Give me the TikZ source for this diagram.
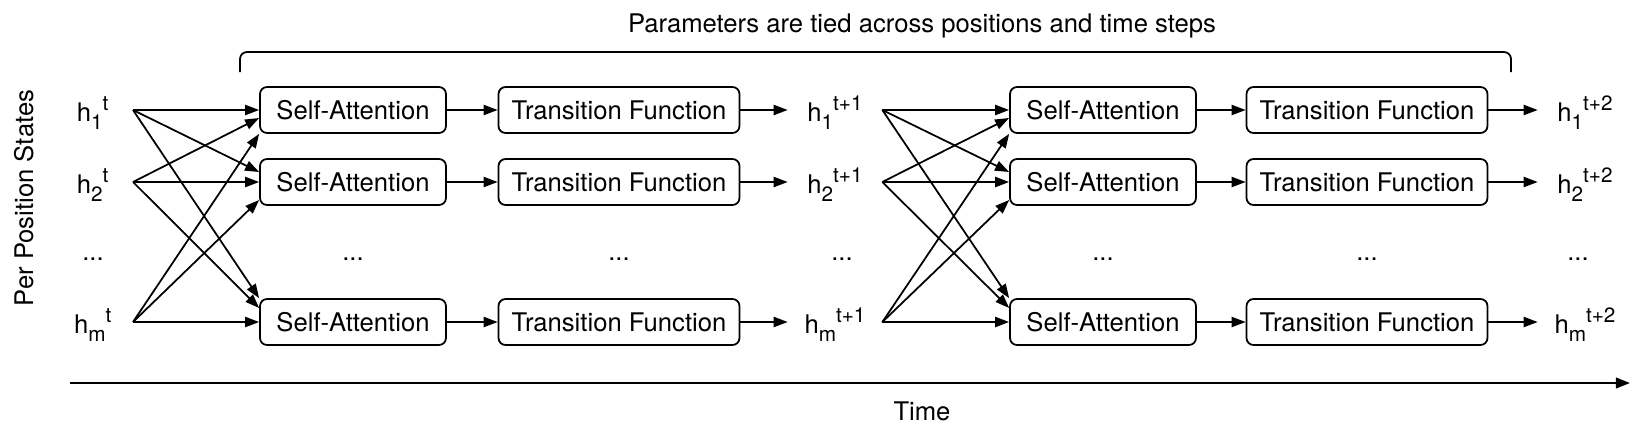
\documentclass[tikz,border=0pt]{standalone}
\usepackage{fontspec}
\setmainfont{TeX Gyre Heros}
\usetikzlibrary{arrows.meta, calc}

% h with side-by-side index and step
\newcommand{\hvec}[2]{h\raisebox{-4.5pt}{\fontsize{11.8pt}{12pt}\selectfont #1}\raisebox{6.2pt}{\fontsize{11.8pt}{12pt}\selectfont #2}}

\tikzset{
  block/.style={draw, line width=1pt, rounded corners=4pt, minimum height=0.92cm, inner sep=0pt},
  attn/.style={block, minimum width=3.72cm},
  trans/.style={block, minimum width=4.82cm},
  hstate/.style={inner sep=0pt, minimum width=1.88cm, text height=13pt, text depth=0pt},
  flow/.style={line width=1pt, -{Triangle[length=8pt, width=5.8pt]}},
  skip/.style={anchor=base}
}

\begin{document}
\begin{tikzpicture}[x=0.02cm, y=-0.02cm, font=\fontsize{14.6pt}{17pt}\selectfont]
\useasboundingbox (0,0) rectangle (1633,427);

% Labels
\node[anchor=base] (title) at (922,32) {Parameters are tied across positions and time steps};
\node[rotate=90, anchor=base] (ylabel) at (33,198) {Per Position States};
\node[anchor=base] (time) at (922,420) {Time};

% Time axis
\coordinate (timeStart) at (70,383);
\coordinate (timeEnd) at (1630,383);
\draw[line width=1.2pt, -{Triangle[length=8pt, width=6pt]}] (timeStart) -- (timeEnd);

% Tied parameters bracket
\draw[line width=1pt, rounded corners=4pt] (240,72) -- (240,52) -- (1511,52) -- (1511,72);

% States at step t
\node[hstate, minimum width=1.6cm, anchor=east] (h1a) at (133,110) {\hvec{1}{t}};
\node[hstate, minimum width=1.6cm, anchor=east] (h2a) at (133,182) {\hvec{2}{t}};
\node[hstate, minimum width=1.6cm, anchor=east] (hma) at (133,322) {\hvec{m}{t}};

% First step blocks
\node[attn] (sa1a) at (353,110) {Self-Attention};
\node[attn] (sa2a) at (353,182) {Self-Attention};
\node[attn] (sama) at (353,322) {Self-Attention};
\node[trans] (tf1a) at (619,110) {Transition Function};
\node[trans] (tf2a) at (619,182) {Transition Function};
\node[trans] (tfma) at (619,322) {Transition Function};

% States at step t+1
\node[hstate] (h1b) at (835,110) {\hvec{1}{t+1}};
\node[hstate] (h2b) at (835,182) {\hvec{2}{t+1}};
\node[hstate] (hmb) at (835,322) {\hvec{m}{t+1}};

% Second step blocks
\node[attn] (sa1b) at (1103,110) {Self-Attention};
\node[attn] (sa2b) at (1103,182) {Self-Attention};
\node[attn] (samb) at (1103,322) {Self-Attention};
\node[trans] (tf1b) at (1367,110) {Transition Function};
\node[trans] (tf2b) at (1367,182) {Transition Function};
\node[trans] (tfmb) at (1367,322) {Transition Function};

% States at step t+2
\node[hstate] (h1c) at (1585,110) {\hvec{1}{t+2}};
\node[hstate] (h2c) at (1585,182) {\hvec{2}{t+2}};
\node[hstate] (hmc) at (1585,322) {\hvec{m}{t+2}};

% Skipped rows
\node[skip] (d0) at (93,260) {...};
\node[skip] (d1) at (353,260) {...};
\node[skip] (d2) at (619,260) {...};
\node[skip] (d3) at (842,260) {...};
\node[skip] (d4) at (1103,260) {...};
\node[skip] (d5) at (1367,260) {...};
\node[skip] (d6) at (1578,260) {...};

% Attention over all positions, first step
\draw[flow] (h1a.east) -- (sa1a.west);
\draw[flow] (h1a.east) -- ($(sa2a.west)+(0,-10)$);
\draw[flow] (h1a.east) -- (sama.north west);
\draw[flow] (h2a.east) -- ($(sa1a.west)+(0,8)$);
\draw[flow] (h2a.east) -- (sa2a.west);
\draw[flow] (h2a.east) -- ($(sama.west)+(0,-14)$);
\draw[flow] (hma.east) -- (sa1a.south west);
\draw[flow] (hma.east) -- ($(sa2a.west)+(0,18)$);
\draw[flow] (hma.east) -- (sama.west);

\draw[flow] (sa1a.east) -- (tf1a.west);
\draw[flow] (sa2a.east) -- (tf2a.west);
\draw[flow] (sama.east) -- (tfma.west);
\draw[flow] (tf1a.east) -- (h1b.west);
\draw[flow] (tf2a.east) -- (h2b.west);
\draw[flow] (tfma.east) -- (hmb.west);

%%%%%%%% Second step %%%%%%%%
\draw[flow] (h1b.east) -- (sa1b.west);
\draw[flow] (h1b.east) -- ($(sa2b.west)+(0,-10)$);
\draw[flow] (h1b.east) -- (samb.north west);
\draw[flow] (h2b.east) -- ($(sa1b.west)+(0,8)$);
\draw[flow] (h2b.east) -- (sa2b.west);
\draw[flow] (h2b.east) -- ($(samb.west)+(0,-14)$);
\draw[flow] (hmb.east) -- (sa1b.south west);
\draw[flow] (hmb.east) -- ($(sa2b.west)+(0,18)$);
\draw[flow] (hmb.east) -- (samb.west);

\draw[flow] (sa1b.east) -- (tf1b.west);
\draw[flow] (sa2b.east) -- (tf2b.west);
\draw[flow] (samb.east) -- (tfmb.west);
\draw[flow] (tf1b.east) -- (h1c.west);
\draw[flow] (tf2b.east) -- (h2c.west);
\draw[flow] (tfmb.east) -- (hmc.west);

\end{tikzpicture}
\end{document}
